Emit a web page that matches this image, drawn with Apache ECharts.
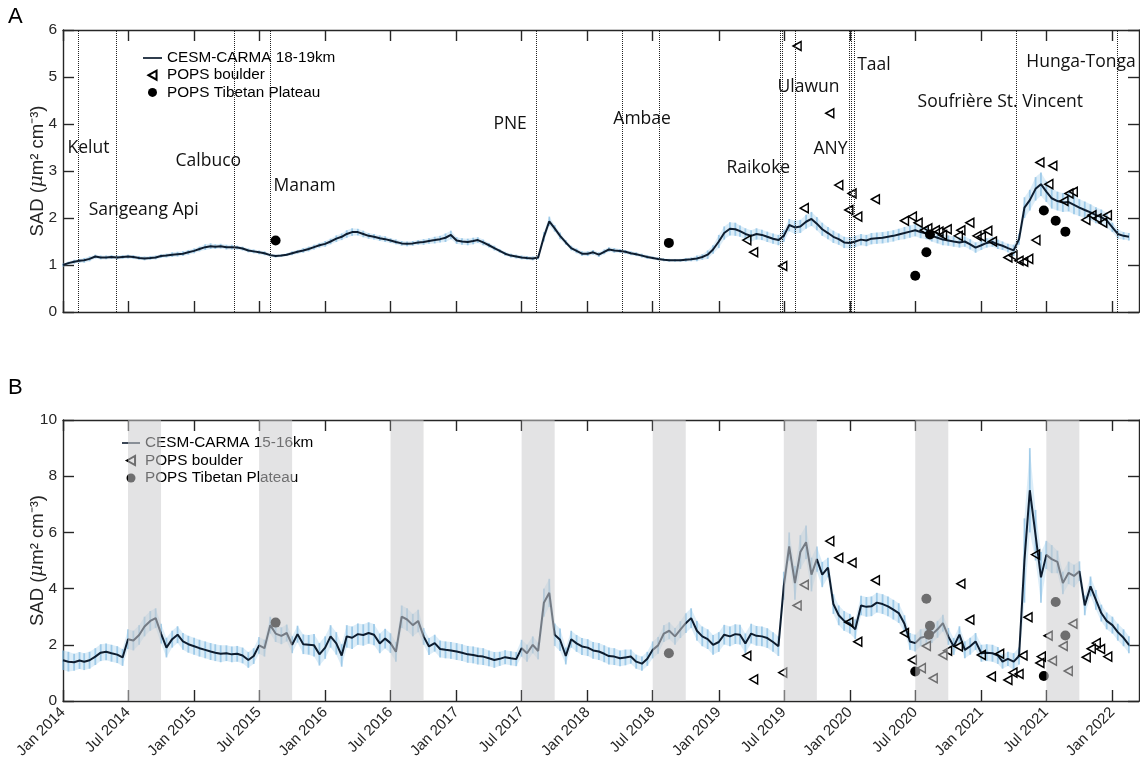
<!DOCTYPE html>
<html><head><meta charset="utf-8">
<script src="https://cdn.jsdelivr.net/npm/echarts@6/dist/echarts.min.js"></script>
<style>html,body{margin:0;padding:0;background:#fff}#c{width:1140px;height:765px}</style>
</head><body><div id="c"></div>
<script>
// ---------- DATA ----------
// tick labels (bottom axis of panel B)
const tickDates = ['2014-01-01','2014-07-01','2015-01-01','2015-07-01','2016-01-01','2016-07-01','2017-01-01','2017-07-01','2018-01-01','2018-07-01','2019-01-01','2019-07-01','2020-01-01','2020-07-01','2021-01-01','2021-07-01','2022-01-01'];
const tickLabels = ['Jan 2014','Jul 2014','Jan 2015','Jul 2015','Jan 2016','Jul 2016','Jan 2017','Jul 2017','Jan 2018','Jul 2018','Jan 2019','Jul 2019','Jan 2020','Jul 2020','Jan 2021','Jul 2021','Jan 2022'];

// CESM-CARMA 18-19km, semi-monthly (1st,16th) values per year
const sadA2014 = [1.00,1.04,1.07,1.09,1.10,1.13,1.18,1.16,1.16,1.17,1.16,1.17,1.18,1.17,1.15,1.14,1.15,1.16,1.19,1.20,1.22,1.23,1.24,1.27];
const sadA2015 = [1.30,1.34,1.38,1.40,1.39,1.40,1.38,1.38,1.37,1.35,1.31,1.29,1.27,1.25,1.21,1.19,1.20,1.22,1.25,1.28,1.31,1.34,1.38,1.42];
const sadA2016 = [1.45,1.50,1.56,1.60,1.66,1.70,1.70,1.66,1.62,1.60,1.57,1.55,1.52,1.49,1.46,1.45,1.46,1.48,1.49,1.51,1.53,1.55,1.58,1.64];
const sadA2017 = [1.52,1.50,1.49,1.51,1.53,1.48,1.42,1.36,1.30,1.24,1.20,1.18,1.16,1.15,1.14,1.16,1.60,1.93,1.78,1.62,1.48,1.36,1.30,1.24];
const sadA2018 = [1.24,1.27,1.22,1.28,1.33,1.31,1.30,1.28,1.25,1.23,1.20,1.17,1.15,1.13,1.11,1.10,1.10,1.10,1.11,1.12,1.14,1.17,1.22,1.33];
const sadA2019 = [1.50,1.68,1.77,1.76,1.72,1.66,1.62,1.66,1.64,1.60,1.56,1.53,1.62,1.85,1.80,1.82,1.92,1.98,1.88,1.76,1.68,1.60,1.55,1.48];
const sadA2020 = [1.47,1.50,1.54,1.52,1.56,1.57,1.58,1.60,1.62,1.65,1.68,1.71,1.74,1.70,1.67,1.62,1.58,1.54,1.52,1.50,1.48,1.50,1.44,1.37];
const sadA2021 = [1.42,1.47,1.49,1.44,1.41,1.36,1.31,1.55,2.22,2.38,2.62,2.72,2.56,2.42,2.36,2.33,2.34,2.28,2.22,2.17,2.12,2.06,2.02,1.95];
const sadA2022 = [1.80,1.66,1.62,1.60];

// error half-widths (monthly) for panel A
const errA2014 = [0.03,0.04,0.05,0.04,0.04,0.04,0.04,0.04,0.04,0.04,0.05,0.05];
const errA2015 = [0.05,0.06,0.05,0.05,0.04,0.04,0.04,0.03,0.03,0.04,0.05,0.05];
const errA2016 = [0.06,0.07,0.08,0.07,0.06,0.06,0.05,0.05,0.05,0.06,0.07,0.09];
const errA2017 = [0.07,0.07,0.06,0.05,0.04,0.04,0.04,0.04,0.10,0.07,0.05,0.05];
const errA2018 = [0.05,0.05,0.05,0.04,0.04,0.04,0.03,0.03,0.03,0.04,0.06,0.09];
const errA2019 = [0.14,0.14,0.12,0.12,0.11,0.11,0.13,0.14,0.15,0.14,0.13,0.12];
const errA2020 = [0.12,0.12,0.12,0.12,0.12,0.13,0.13,0.12,0.12,0.11,0.11,0.11];
const errA2021 = [0.10,0.10,0.09,0.12,0.22,0.25,0.22,0.20,0.20,0.18,0.17,0.16];
const errA2022 = [0.10,0.08];

// CESM-CARMA 15-16km, semi-monthly values per year
const sadB2014 = [1.45,1.40,1.38,1.44,1.40,1.45,1.58,1.72,1.75,1.70,1.65,1.55,2.20,2.15,2.35,2.65,2.85,2.95,2.40,1.90,2.20,2.36,2.12,2.02];
const sadB2015 = [1.95,1.88,1.82,1.76,1.72,1.68,1.70,1.66,1.68,1.62,1.46,1.60,1.98,1.88,2.70,2.40,2.32,2.42,2.00,2.38,2.02,2.00,1.98,1.66];
const sadB2016 = [1.90,2.30,2.05,1.62,2.30,2.25,2.38,2.35,2.42,2.36,2.05,2.22,2.06,1.75,3.00,2.90,2.70,2.85,2.30,1.94,2.06,1.85,1.82,1.80];
const sadB2017 = [1.76,1.72,1.66,1.64,1.60,1.58,1.52,1.46,1.50,1.56,1.52,1.49,1.88,1.70,2.00,1.78,3.50,3.85,2.36,2.18,1.60,2.20,2.05,1.94];
const sadB2018 = [1.90,1.80,1.76,1.68,1.60,1.58,1.52,1.55,1.58,1.40,1.33,1.50,1.82,1.98,2.40,2.50,2.30,2.54,2.77,2.95,2.50,2.30,2.20,2.00];
const sadB2019 = [2.10,2.36,2.30,2.38,2.36,2.05,2.40,2.32,2.30,2.24,2.10,1.95,4.10,5.50,4.20,5.30,5.65,4.50,5.05,4.50,4.75,3.45,3.05,2.85];
const sadB2020 = [2.75,2.55,3.40,3.35,3.37,3.50,3.45,3.37,3.25,3.13,2.75,2.12,2.06,2.25,2.30,2.36,2.55,2.77,2.30,1.94,2.36,1.82,1.95,2.12];
const sadB2021 = [1.70,1.72,1.70,1.62,1.40,1.50,1.40,1.60,5.00,7.50,5.90,4.40,5.20,5.05,4.95,4.20,4.56,4.45,4.62,3.40,4.08,3.60,3.13,2.85];
const sadB2022 = [2.70,2.45,2.25,2.00];

const errB2014 = [0.35,0.30,0.30,0.30,0.30,0.30,0.35,0.35,0.35,0.35,0.30,0.30];
const errB2015 = [0.30,0.30,0.30,0.28,0.28,0.28,0.30,0.30,0.30,0.30,0.35,0.40];
const errB2016 = [0.40,0.40,0.40,0.38,0.38,0.35,0.35,0.40,0.40,0.30,0.30,0.30];
const errB2017 = [0.30,0.30,0.30,0.28,0.25,0.25,0.30,0.30,0.50,0.40,0.30,0.30];
const errB2018 = [0.30,0.30,0.30,0.28,0.25,0.25,0.30,0.30,0.30,0.35,0.35,0.35];
const errB2019 = [0.35,0.35,0.35,0.35,0.35,0.35,0.50,0.60,0.60,0.45,0.35,0.35];
const errB2020 = [0.35,0.35,0.35,0.35,0.35,0.30,0.30,0.30,0.30,0.30,0.30,0.30];
const errB2021 = [0.30,0.30,0.25,0.30,1.50,0.90,0.50,0.40,0.40,0.35,0.35,0.30];
const errB2022 = [0.30,0.30];

// POPS observations, panel A
const popsBoulderA = [['2019-03-20',1.53],['2019-04-08',1.27],['2019-06-28',0.98],['2019-08-07',5.66],['2019-08-27',2.21],['2019-11-06',4.23],['2019-12-01',2.70],['2019-12-29',2.17],['2020-01-07',2.52],['2020-01-23',2.03],['2020-03-12',2.40],['2020-06-01',1.94],['2020-06-23',2.03],['2020-07-09',1.90],['2020-07-26',1.74],['2020-08-05',1.78],['2020-08-26',1.74],['2020-09-05',1.71],['2020-09-15',1.64],['2020-09-28',1.76],['2020-10-29',1.62],['2020-11-05',1.74],['2020-11-30',1.90],['2020-12-20',1.62],['2021-01-01',1.60],['2021-01-19',1.73],['2021-02-01',1.50],['2021-03-16',1.16],['2021-03-30',1.20],['2021-04-16',1.09],['2021-04-29',1.07],['2021-05-13',1.13],['2021-06-02',1.53],['2021-06-13',3.18],['2021-07-08',2.72],['2021-07-19',3.11],['2021-08-19',2.36],['2021-09-02',2.52],['2021-09-14',2.56],['2021-10-19',1.96],['2021-11-05',2.06],['2021-11-19',1.99],['2021-12-05',1.90],['2021-12-18',2.06]];
const popsTibetA = [['2015-08-16',1.52],['2018-08-15',1.47],['2020-07-01',0.77],['2020-08-01',1.27],['2020-08-11',1.65],['2021-06-24',2.16],['2021-07-27',1.94],['2021-08-23',1.71]];

// POPS observations, panel B
const popsBoulderB = [['2019-03-20',1.61],['2019-04-08',0.77],['2019-06-28',1.01],['2019-08-07',3.40],['2019-08-27',4.14],['2019-11-06',5.69],['2019-12-01',5.10],['2019-12-29',2.80],['2020-01-07',4.92],['2020-01-23',2.11],['2020-03-12',4.30],['2020-06-01',2.42],['2020-06-23',1.46],['2020-07-18',1.17],['2020-08-01',1.96],['2020-08-20',0.81],['2020-09-16',1.64],['2020-09-29',1.79],['2020-10-29',1.94],['2020-11-05',4.17],['2020-11-30',2.89],['2021-01-01',1.64],['2021-01-29',0.87],['2021-02-21',1.68],['2021-03-16',0.75],['2021-03-30',1.01],['2021-04-16',0.96],['2021-04-27',1.62],['2021-05-11',2.98],['2021-06-01',5.21],['2021-06-13',1.35],['2021-06-17',1.58],['2021-07-06',2.32],['2021-07-18',1.43],['2021-08-17',1.96],['2021-08-31',1.07],['2021-09-13',2.75],['2021-10-20',1.56],['2021-11-03',1.86],['2021-11-17',2.06],['2021-11-29',1.85],['2021-12-19',1.58]];
const popsTibetB = [['2015-08-16',2.79],['2018-08-15',1.70],['2020-07-01',1.05],['2020-08-01',3.64],['2020-08-08',2.36],['2020-08-11',2.68],['2021-06-24',0.89],['2021-07-27',3.52],['2021-08-23',2.33]];

// volcanic eruption dates (dotted lines) and labels
const eruptionDates = ['2014-02-13','2014-05-30','2015-04-22','2015-07-31','2017-08-12','2018-04-06','2018-07-20','2019-06-22','2019-06-26','2019-08-03','2019-12-30','2020-01-04','2020-01-12','2021-04-09','2022-01-15'];
const volcanoNames = ['Kelut','Sangeang Api','Calbuco','Manam','PNE','Ambae','Raikoke','Ulawun','ANY','Taal','Soufrière St. Vincent','Hunga-Tonga'];
const volcanoLabelDates = ['2014-01-12','2014-03-12','2014-11-09','2015-08-09','2017-04-12','2018-03-12','2019-01-21','2019-06-12','2019-09-20','2020-01-20','2020-07-06','2021-05-05'];
const volcanoLabelLevels = [3.49,2.17,3.21,2.68,4.00,4.11,3.06,4.79,3.47,5.26,4.47,5.32];

// JAS seasons (shaded in panel B)
const seasonStarts = ['2014-07-01','2015-07-01','2016-07-01','2017-07-01','2018-07-01','2019-07-01','2020-07-01','2021-07-01'];
const seasonEnds   = ['2014-10-01','2015-10-01','2016-10-01','2017-10-01','2018-10-01','2019-10-01','2020-10-01','2021-10-01'];

// ---------- BUILD ----------
const T = d => +echarts.time.parse(d);
const sadA = [].concat(sadA2014,sadA2015,sadA2016,sadA2017,sadA2018,sadA2019,sadA2020,sadA2021,sadA2022);
const sadB = [].concat(sadB2014,sadB2015,sadB2016,sadB2017,sadB2018,sadB2019,sadB2020,sadB2021,sadB2022);
const errA = [].concat(errA2014,errA2015,errA2016,errA2017,errA2018,errA2019,errA2020,errA2021,errA2022);
const errB = [].concat(errB2014,errB2015,errB2016,errB2017,errB2018,errB2019,errB2020,errB2021,errB2022);
const sampleDates = [];
(function(){
  const pad = n => (n < 10 ? '0' : '') + n;
  for (let y = 2014; y <= 2022; y++) {
    for (let m = 1; m <= 12; m++) {
      for (const d of [1, 16]) {
        if (sampleDates.length < sadA.length) sampleDates.push(y + '-' + pad(m) + '-' + pad(d));
      }
    }
  }
})();
const sampleTimes = sampleDates.map(T);
const pts = arr => arr.map(p => [T(p[0]), p[1]]);

const FONT = 'Liberation Sans, Arial, Helvetica, sans-serif';
const AX = '#262626';
const LINE = '#0e1d2f';
const ERR = 'rgba(115,178,222,0.6)';
const ERRFILL = 'rgba(150,200,235,0.33)';
const tickTimes = tickDates.map(T);
const xMin = T('2014-01-01'), xMax = T('2022-03-16');

// error bars + light band between consecutive samples
function errSeries(vals, errs, xi, yi) {
  const n = sampleTimes.length;
  const lo = i => vals[i] - errs[Math.floor(i / 2)];
  const hi = i => vals[i] + errs[Math.floor(i / 2)];
  return {
    type: 'custom', xAxisIndex: xi, yAxisIndex: yi, z: 2, silent: true,
    encode: { x: [0, 3], y: [1, 2] },
    data: sampleTimes.map((t, i) => {
      const j = Math.min(i + 1, n - 1);
      return [t, lo(i), hi(i), sampleTimes[j], lo(j), hi(j)];
    }),
    renderItem: function (params, api) {
      const a1 = api.coord([api.value(0), api.value(1)]);
      const a2 = api.coord([api.value(0), api.value(2)]);
      const b1 = api.coord([api.value(3), api.value(4)]);
      const b2 = api.coord([api.value(3), api.value(5)]);
      return { type: 'group', children: [
        { type: 'polygon', shape: { points: [a1, b1, b2, a2] }, style: { fill: ERRFILL } },
        { type: 'line', shape: { x1: a1[0], y1: a1[1], x2: a2[0], y2: a2[1] }, style: { stroke: ERR, lineWidth: 1.8 } }
      ] };
    }
  };
}

const triSymbol = 'path://M0,5L9,0L9,10Z';
const lineIcon = 'path://M0,0L20,0L20,1.8L0,1.8Z';
function xAxisDef(grid, pos, labels) {
  return {
    type: 'value', gridIndex: grid, min: xMin, max: xMax, position: pos, scale: true,
    axisLine: { show: true, onZero: false, lineStyle: { color: AX, width: 1.4 } },
    axisTick: { show: true, inside: true, length: 11, customValues: tickTimes, lineStyle: { color: AX, width: 1.4 } },
    axisLabel: labels ? {
      show: true, customValues: tickTimes, rotate: 45, margin: 9, fontSize: 15, color: AX, fontFamily: FONT,
      formatter: function (v) { const i = tickTimes.indexOf(v); return i >= 0 ? tickLabels[i] : ''; }
    } : { show: false },
    splitLine: { show: false }
  };
}
function yAxisDef(grid, pos, max, interval, named) {
  const ax = {
    type: 'value', gridIndex: grid, min: 0, max: max, interval: interval, position: pos,
    axisLine: { show: true, onZero: false, lineStyle: { color: AX, width: 1.4 } },
    axisTick: { show: true, inside: true, length: 11, lineStyle: { color: AX, width: 1.4 } },
    axisLabel: { show: named, fontSize: 15.5, color: AX, fontFamily: FONT, margin: 6 },
    splitLine: { show: false }
  };
  if (named) {
    ax.name = '{t|SAD (}{i|μ}{t|m² cm⁻³)}';
    ax.nameLocation = 'middle';
    ax.nameGap = 16;
    ax.nameMoveOverlap = false;
    ax.nameTextStyle = { color: AX, rich: { t: { fontSize: 18.5, fontFamily: FONT, color: AX }, i: { fontSize: 18.5, fontFamily: 'DejaVu Serif, serif', fontStyle: 'italic', color: AX } } };
  }
  return ax;
}
const legendText = { fontFamily: FONT, fontSize: 15.3, color: '#000' };

const option = {
  animation: false,
  backgroundColor: '#fff',
  grid: [
    { left: 63, top: 30, width: 1076, height: 282 },
    { left: 63, top: 420, width: 1076, height: 281 }
  ],
  xAxis: [ xAxisDef(0, 'bottom', false), xAxisDef(0, 'top', false), xAxisDef(1, 'bottom', true), xAxisDef(1, 'top', false) ],
  yAxis: [ yAxisDef(0, 'left', 6, 1, true), yAxisDef(0, 'right', 6, 1, false), yAxisDef(1, 'left', 10, 2, true), yAxisDef(1, 'right', 10, 2, false) ],
  legend: [
    { data: [{ name: 'CESM-CARMA 18-19km', icon: lineIcon }, 'POPS boulder', 'POPS Tibetan Plateau'], orient: 'vertical', left: 143, top: 50.5,
      itemWidth: 19, itemHeight: 9, itemGap: 2.2, padding: 0, selectedMode: false, textStyle: legendText },
    { data: [{ name: 'CESM-CARMA 15-16km', icon: lineIcon }, 'POPS boulder', 'POPS Tibetan Plateau'], orient: 'vertical', left: 122, top: 435.5,
      itemWidth: 18, itemHeight: 9, itemGap: 2.5, padding: 0, selectedMode: false, textStyle: legendText }
  ],
  graphic: [
    { type: 'text', left: 8, top: 6, style: { text: 'A', fontSize: 22, fontFamily: FONT, fill: '#000' } },
    { type: 'text', left: 8, top: 377, style: { text: 'B', fontSize: 22, fontFamily: FONT, fill: '#000' } }
  ],
  series: [
    errSeries(sadA, errA, 0, 0),
    {
      name: 'CESM-CARMA 18-19km', type: 'line', xAxisIndex: 0, yAxisIndex: 0, z: 3,
      symbol: 'none', showSymbol: false, lineStyle: { color: LINE, width: 2 }, itemStyle: { color: LINE },
      data: sampleTimes.map((t, i) => [t, sadA[i]]),
      markLine: {
        silent: true, symbol: ['none', 'none'], label: { show: false },
        lineStyle: { type: 'dotted', color: '#222', width: 1 },
        data: eruptionDates.map(d => ({ xAxis: T(d) }))
      }
    },
    {
      name: 'POPS boulder', type: 'scatter', xAxisIndex: 0, yAxisIndex: 0, z: 4,
      symbol: triSymbol, symbolSize: [8, 9],
      itemStyle: { color: 'rgba(255,255,255,0)', borderColor: '#000', borderWidth: 1.5, opacity: 1 },
      data: pts(popsBoulderA)
    },
    {
      name: 'POPS Tibetan Plateau', type: 'scatter', xAxisIndex: 0, yAxisIndex: 0, z: 4,
      symbol: 'circle', symbolSize: 10, itemStyle: { color: '#000', opacity: 1 },
      data: pts(popsTibetA)
    },
    {
      type: 'scatter', xAxisIndex: 0, yAxisIndex: 0, z: 5, silent: true,
      symbolSize: 1, itemStyle: { color: 'rgba(0,0,0,0)', opacity: 1 },
      label: { show: true, position: 'right', distance: 0, formatter: '{b}', fontFamily: 'Open Sans, sans-serif', fontSize: 17.5, color: '#111' },
      data: volcanoNames.map((n, i) => ({ name: n, value: [T(volcanoLabelDates[i]), volcanoLabelLevels[i]] }))
    },
    errSeries(sadB, errB, 2, 2),
    {
      name: 'CESM-CARMA 15-16km', type: 'line', xAxisIndex: 2, yAxisIndex: 2, z: 3,
      symbol: 'none', showSymbol: false, lineStyle: { color: LINE, width: 2 }, itemStyle: { color: LINE },
      data: sampleTimes.map((t, i) => [t, sadB[i]])
    },
    {
      name: 'POPS boulder', type: 'scatter', xAxisIndex: 2, yAxisIndex: 2, z: 4,
      symbol: triSymbol, symbolSize: [8, 9],
      itemStyle: { color: 'rgba(255,255,255,0)', borderColor: '#000', borderWidth: 1.5, opacity: 1 },
      data: pts(popsBoulderB)
    },
    {
      name: 'POPS Tibetan Plateau', type: 'scatter', xAxisIndex: 2, yAxisIndex: 2, z: 4,
      symbol: 'circle', symbolSize: 10, itemStyle: { color: '#000', opacity: 1 },
      data: pts(popsTibetB)
    },
    {
      type: 'custom', xAxisIndex: 2, yAxisIndex: 2, z: 10, silent: true,
      encode: { x: [0, 1] },
      data: seasonStarts.map((s, i) => [T(s), T(seasonEnds[i])]),
      renderItem: function (params, api) {
        const a = api.coord([api.value(0), 0]);
        const b = api.coord([api.value(1), 10]);
        return { type: 'rect', shape: { x: a[0], y: b[1], width: b[0] - a[0], height: a[1] - b[1] }, style: { fill: 'rgba(203,203,205,0.54)' } };
      }
    }
  ]
};
const chart = echarts.init(document.getElementById('c'), null, { renderer: 'canvas' });
chart.setOption(option);
</script></body></html>
